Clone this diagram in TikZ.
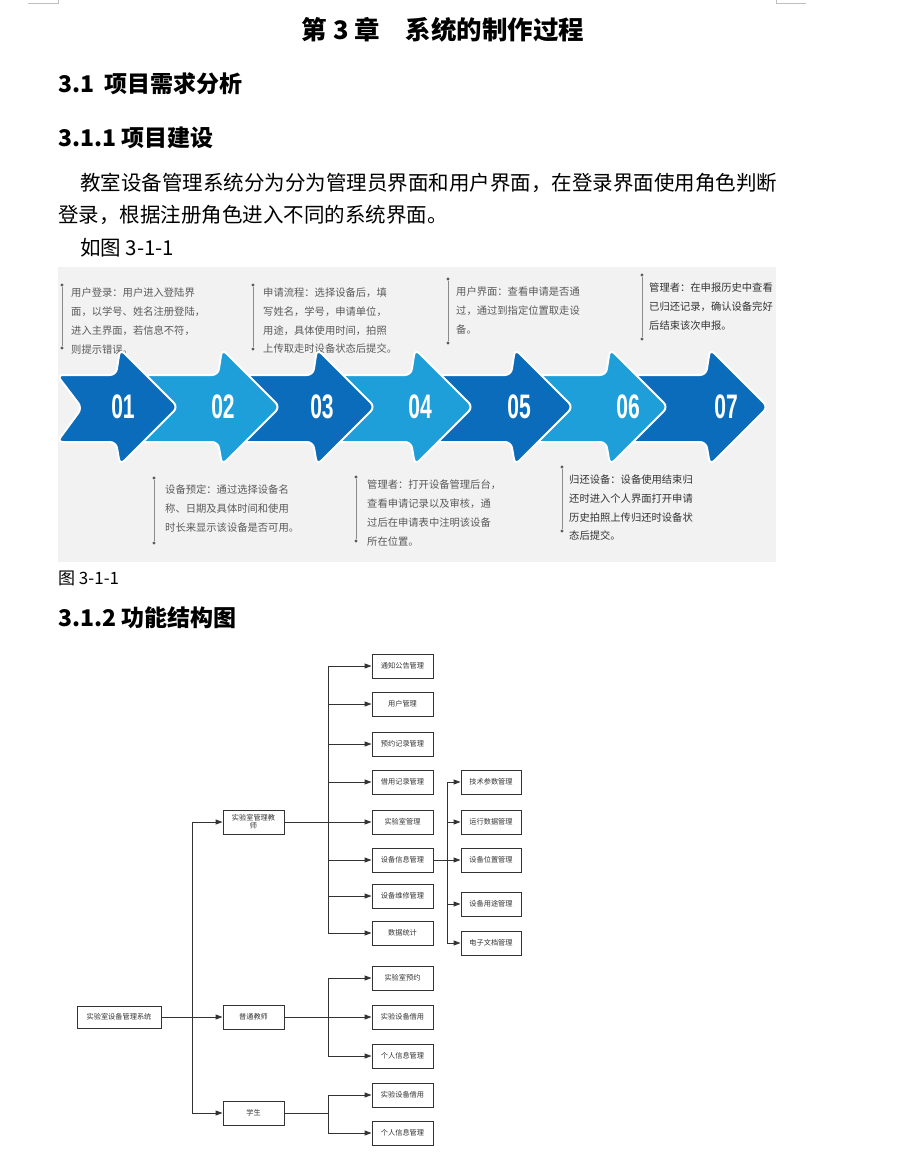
\documentclass[tikz,border=0pt]{standalone}
\usepackage{fontspec}
\usepackage{graphicx}
\setmainfont{Liberation Serif}
\newfontfamily\cjk{Noto Sans CJK SC}
\newfontfamily\numfont{Liberation Sans}
\usetikzlibrary{arrows.meta}

\definecolor{bgray}{HTML}{F2F2F2}
\definecolor{dkblue}{HTML}{0A6CBB}
\definecolor{ltblue}{HTML}{1E9FD9}
\definecolor{notegray}{HTML}{5A5A5A}
\definecolor{linegray}{HTML}{333333}

\tikzset{
  txt/.style={anchor=west, inner sep=0pt, font=\cjk\fontsize{20.5}{24}\selectfont},
  head/.style={anchor=west, inner sep=0pt, font=\cjk\bfseries\fontsize{23}{27}\selectfont},
  note/.style={anchor=north west, inner sep=0pt, align=left, text=notegray, font=\cjk\fontsize{10.3}{18.7}\selectfont},
  dot/.style={circle, fill=notegray, inner sep=0pt, minimum size=3.4pt},
  stem/.style={draw=notegray!70, line width=0.5pt},
  num/.style={text=white, inner sep=0pt, font=\numfont\bfseries\fontsize{34}{34}\selectfont},
  box/.style={draw=linegray, line width=0.9pt, inner sep=0pt, minimum width=61pt, minimum height=24pt, align=center, text=linegray, font=\cjk\fontsize{7.2}{8}\selectfont},
  arr/.style={draw=linegray, line width=0.9pt, -{Triangle[length=7pt,width=5pt]}},
  chev/.style={draw=white, line width=2pt, rounded corners=6pt},
}

\begin{document}
\begin{tikzpicture}[x=1pt,y=-1pt]
  \useasboundingbox (0,0) rectangle (898,1160);
  \draw[gray!50, line width=0.5pt] (28,3) -- (58,3) -- (58,0);
  \draw[gray!50, line width=0.5pt] (776,0) -- (776,3) -- (806,3);

  \node (title) [inner sep=0pt, font=\cjk\bfseries\fontsize{25.5}{30}\selectfont] at (443,30) {第 3 章　系统的制作过程};
  \node[head] (h31) at (58,84) {3.1\ \ 项目需求分析};
  \node[head] (h311) at (58,138) {3.1.1 项目建设};
  \node[txt] (p1) at (80,183) {教室设备管理系统分为分为管理员界面和用户界面，在登录界面使用角色判断};
  \node[txt] (p2) at (58,215) {登录，根据注册角色进入不同的系统界面。};
  \node[txt] (p3) at (80,248) {如图 3-1-1};

  \fill[bgray] (58,267) rectangle (776,562);

  \node[dot] (a1) at (62,285) {};  \node[dot] (b1) at (62,348) {};
  \node[dot] (a2) at (253,285) {}; \node[dot] (b2) at (253,349) {};
  \node[dot] (a3) at (154,478) {}; \node[dot] (b3) at (154,543) {};
  \node[dot] (a4) at (356,477) {}; \node[dot] (b4) at (356,541) {};
  \node[dot] (a5) at (448,279) {}; \node[dot] (b5) at (448,343) {};
  \node[dot] (a6) at (642,275) {}; \node[dot] (b6) at (642,339) {};
  \node[dot] (a7) at (562,467) {}; \node[dot] (b7) at (562,531) {};
  \foreach \i in {1,...,7} \draw[stem] (a\i) -- (b\i);

  \node[note] (n1) at (71,288) {用户登录：用户进入登陆界\\面，以学号、姓名注册登陆，\\进入主界面，若信息不符，\\则提示错误。};
  \node[note] (n2) at (263,288) {申请流程：选择设备后，填\\写姓名，学号，申请单位，\\用途，具体使用时间，拍照\\上传取走时设备状态后提交。};
  \node[note] (n3) at (165,485) {设备预定：通过选择设备名\\称、日期及具体时间和使用\\时长来显示该设备是否可用。};
  \node[note] (n4) at (367,480) {管理者：打开设备管理后台，\\查看申请记录以及审核，通\\过后在申请表中注明该设备\\所在位置。};
  \node[note] (n5) at (456,287) {用户界面：查看申请是否通\\过，通过到指定位置取走设\\备。};
  \node[note, text=linegray] (n6) at (649,283) {管理者：在申报历史中查看\\已归还记录，确认设备完好\\后结束该次申报。};
  \node[note, text=linegray] (n7) at (569,475) {归还设备：设备使用结束归\\还时进入个人界面打开申请\\历史拍照上传归还时设备状\\态后提交。};

  \foreach \t/\c in {768/dkblue,668/ltblue,573/dkblue,473/ltblue,375/dkblue,280/ltblue}
    \filldraw[chev, fill=\c] (\t-150,375) -- (\t-62,375) -- (\t-58,349) -- (\t,407) -- (\t-58,465) -- (\t-62,442) -- (\t-150,442) -- cycle;
  \filldraw[chev, fill=dkblue] (57,375) -- (116,375) -- (120,349) -- (178,407) -- (120,465) -- (116,442) -- (57,442) -- (82,408) -- cycle;
  \foreach \x/\n in {123/01,223/02,322/03,420/04,519/05,628/06,726/07}
    \node[num] (k\n) at (\x,407) {\scalebox{0.62}[1]{\n}};

  \node[txt, font=\cjk\fontsize{17}{20}\selectfont] (cap) at (58,578) {图 3-1-1};
  \node[head] (h312) at (58,618) {3.1.2 功能结构图};

  \node[box, minimum width=84pt, minimum height=22pt] (sys) at (119,1017) {实验室设备管理系统};
  \node[box] (adm) at (253.5,822) {实验室管理教\\师};
  \node[box] (tch) at (253.5,1017) {普通教师};
  \node[box] (stu) at (253.5,1113) {学生};
  \foreach \n/\y/\t in {m1/666/通知公告管理, m2/704/用户管理, m3/744/预约记录管理, m4/782/借用记录管理,
      m5/822/实验室管理, m6/860/设备信息管理, m7/896/设备维修管理, m8/933/数据统计,
      t1/978/实验室预约, t2/1017/实验设备借用, t3/1056/个人信息管理,
      u1/1095/实验设备借用, u2/1133/个人信息管理}
    \node[box] (\n) at (402.5,\y) {\t};
  \foreach \n/\y/\t in {s1/782/技术参数管理, s2/822/运行数据管理, s3/860/设备位置管理, s4/904/设备用途管理, s5/943/电子文档管理}
    \node[box, minimum width=60pt] (\n) at (491,\y) {\t};

  \coordinate (j0) at (192,1017);
  \coordinate (j1) at (328,822);
  \coordinate (j2) at (447,860);
  \coordinate (j3) at (328,1017);
  \coordinate (j4) at (328,1113);
  \begin{scope}[draw=linegray, line width=0.9pt]
    \draw (sys.east) -- (j0);
    \draw (adm.east) -- (j1);
    \draw (m6.east) -- (j2);
    \draw (tch.east) -- (j3);
    \draw (stu.east) -- (j4);
  \end{scope}
  \foreach \n in {adm,tch,stu} \draw[arr] (j0) |- (\n.west);
  \foreach \n in {m1,m2,m3,m4,m5,m6,m7,m8} \draw[arr] (j1) |- (\n.west);
  \foreach \n in {s1,s2,s3,s4,s5} \draw[arr] (j2) |- (\n.west);
  \foreach \n in {t1,t2,t3} \draw[arr] (j3) |- (\n.west);
  \foreach \n in {u1,u2} \draw[arr] (j4) |- (\n.west);
\end{tikzpicture}
\end{document}
